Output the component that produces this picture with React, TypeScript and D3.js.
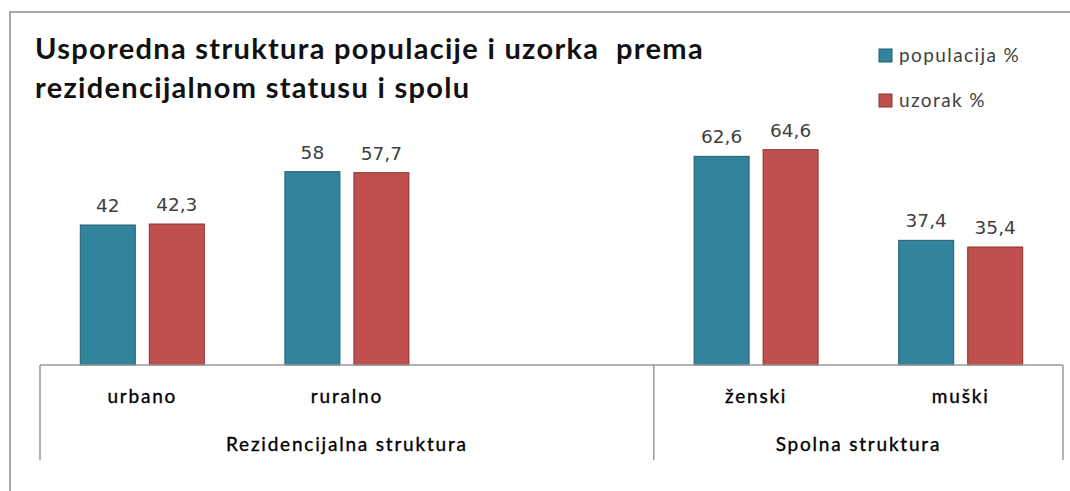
import React from "react";
import * as d3 from "d3";

const categories = ["urbano", "ruralno", "", "ženski", "muški"];
const groups = [
  { name: "Rezidencijalna struktura", from: 0, to: 2 },
  { name: "Spolna struktura", from: 3, to: 4 },
];
const seriesNames = ["populacija %", "uzorak %"];
const populacija = [42, 58, null, 62.6, 37.4];
const uzorak = [42.3, 57.7, null, 64.6, 35.4];
const labelsPop = ["42", "58", "", "62,6", "37,4"];
const labelsUz = ["42,3", "57,7", "", "64,6", "35,4"];
const titleLines = ["Usporedna struktura populacije i uzorka\u00a0 prema", "rezidencijalnom statusu i spolu"];

const colors = ["#31849B", "#C0504D"];
const strokes = ["#215F70", "#8A3431"];

export default function App() {
  const W = 1070, H = 491;
  const x0 = d3.scaleBand<string>().domain(categories.map((c, i) => String(i))).range([40, 1063]).padding(0);
  const x1 = d3.scaleBand<string>().domain(seriesNames).range([0, x0.bandwidth()]).paddingInner(0.203).paddingOuter(0.584);
  const y = d3.scaleLinear().domain([0, 70]).range([365, 365 - 70 * 3.333]);
  const data = [populacija, uzorak];
  const labels = [labelsPop, labelsUz];
  const axisColor = "#9a9a9a";
  const textColor = "#404040";
  const catFont = "Lato, 'Open Sans', sans-serif";

  return (
    <svg width={W} height={H} style={{ position: "absolute", left: 0, top: 0, background: "#fff" }}>
      <rect x={10} y={12} width={1100} height={520} fill="#fff" stroke="#8c8c8c" strokeWidth={1.5} />
      {titleLines.map((t, i) => (
        <text key={i} x={35} y={59 + i * 39} fontFamily={catFont} fontWeight={700} fontSize={29} fill="#111" letterSpacing={1.3}>
          {t}
        </text>
      ))}
      {seriesNames.map((s, i) => (
        <g key={s} transform={`translate(879,${49 + i * 45})`}>
          <rect x={0} y={0} width={13} height={13} fill={colors[i]} stroke={strokes[i]} strokeWidth={1} />
          <text x={20} y={13} fontFamily={catFont} fontSize={19} fill={textColor} letterSpacing={1.4}>{s}</text>
        </g>
      ))}
      {data.map((vals, si) =>
        vals.map((v, ci) =>
          v == null ? null : (
            <g key={`${si}-${ci}`}>
              <rect
                x={(x0(String(ci)) as number) + (x1(seriesNames[si]) as number)}
                y={y(v)}
                width={x1.bandwidth()}
                height={y(0) - y(v)}
                fill={colors[si]}
                stroke={strokes[si]}
                strokeWidth={1}
              />
              <text
                x={(x0(String(ci)) as number) + (x1(seriesNames[si]) as number) + x1.bandwidth() / 2}
                y={y(v) - 13}
                textAnchor="middle"
                fontFamily="'DejaVu Sans', sans-serif"
                fontSize={18.5}
                fill={textColor}
              >
                {labels[si][ci]}
              </text>
            </g>
          )
        )
      )}
      <line x1={40} x2={1063} y1={365} y2={365} stroke={axisColor} strokeWidth={1.5} />
      {[0, 3, 5].map((b) => {
        const xx = b < 5 ? (x0(String(b)) as number) : 1063;
        return <line key={b} x1={xx} x2={xx} y1={365} y2={460} stroke={axisColor} strokeWidth={1.5} />;
      })}
      {categories.map((c, i) => (
        <text
          key={i}
          x={(x0(String(i)) as number) + x0.bandwidth() / 2}
          y={403}
          textAnchor="middle"
          fontFamily={catFont}
          fontSize={19}
          fill="#000"
          stroke="#000"
          strokeWidth={0.35}
          letterSpacing={1.8}
        >
          {c}
        </text>
      ))}
      {groups.map((g) => {
        const a = x0(String(g.from)) as number;
        const b = (x0(String(g.to)) as number) + x0.bandwidth();
        return (
          <text key={g.name} x={(a + b) / 2} y={451} textAnchor="middle" fontFamily={catFont} fontSize={19} fill="#000" stroke="#000" strokeWidth={0.35} letterSpacing={1.8}>
            {g.name}
          </text>
        );
      })}
    </svg>
  );
}
